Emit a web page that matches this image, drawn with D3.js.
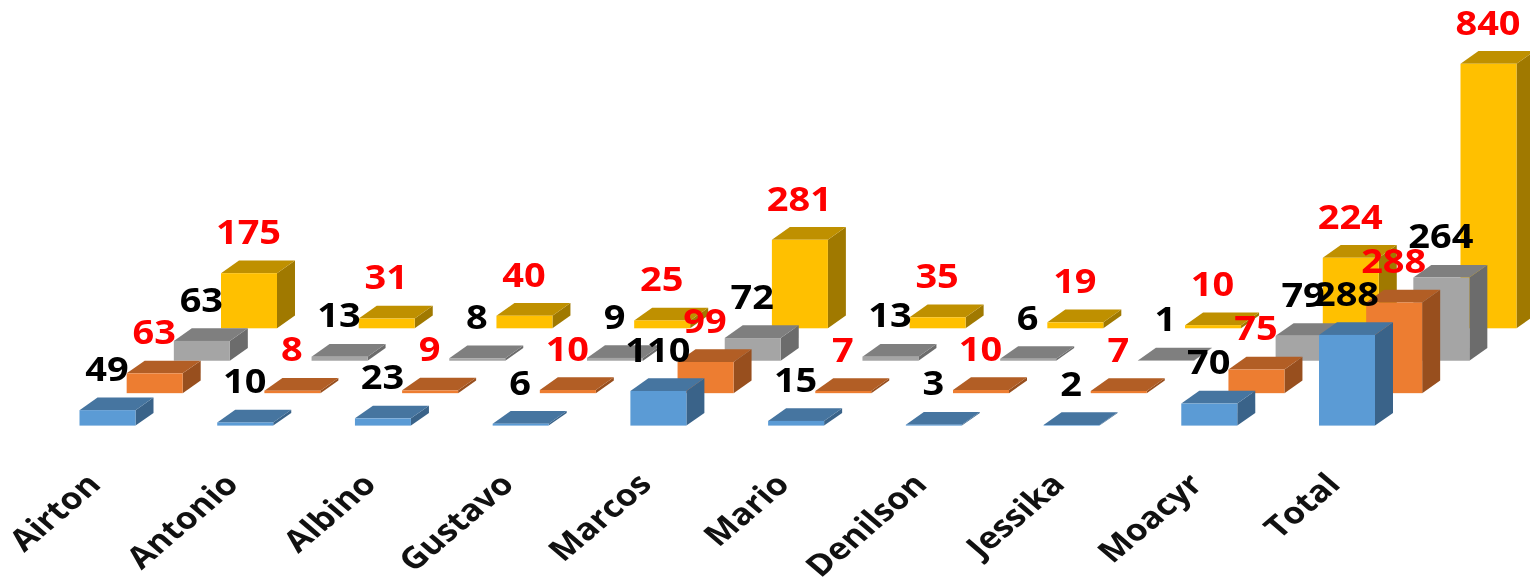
<!DOCTYPE html>
<html><head><meta charset="utf-8">
<script src="https://cdn.jsdelivr.net/npm/d3@7"></script>
<style>html,body{margin:0;padding:0;background:#fff;overflow:hidden}svg{display:block;filter:blur(0.7px)}</style>
</head><body><svg id="c" width="1530" height="583"></svg>
<script>
const categories=["Airton","Antonio","Albino","Gustavo","Marcos","Mario","Denilson","Jessika","Moacyr","Total"];
const seriesBlue=[49,10,23,6,110,15,3,2,70,288];
const seriesOrange=[63,8,9,10,99,7,10,7,75,288];
const seriesGray=[63,13,8,9,72,13,6,1,79,264];
const seriesYellow=[175,31,40,25,281,35,19,10,224,840];
const seriesNames=["blue","orange","gray","yellow"];
const seriesValues=[seriesBlue,seriesOrange,seriesGray,seriesYellow];
const faceColors=["#5B9BD5","#ED7D31","#A5A5A5","#FFC000"];
const topColors=["#4675A0","#B25E25","#7F7F7F","#BF9000"];
const sideColors=["#3A6389","#984F1E","#6C6C6C","#A07900"];
const labelColors=["#000","#f00","#000","#f00"];

const svg=d3.select("#c");
const barW=56,depthX=18,depthY=12.7;
const x=d3.scalePoint().domain(categories).range([79.5,1319]);
const sx=d3.scalePoint().domain(seriesNames).range([0,141.5]);
const base=d3.scalePoint().domain(seriesNames).range([425.6,328.3]);
const h=d3.scaleLinear().domain([0,840]).range([0,264.5]);
const poly=p=>p.map(q=>q.join(",")).join(" ");

const order=[3,2,1,0];
order.forEach(si=>{
  const name=seriesNames[si];
  const g=svg.append("g").attr("class","series-"+name);
  categories.forEach((cat,ci)=>{
    const v=seriesValues[si][ci];
    const x0=x(cat)+sx(name),x1=x0+barW,yb=base(name),yt=yb-h(v);
    g.append("polygon").attr("points",poly([[x1,yb],[x1+depthX,yb-depthY],[x1+depthX,yt-depthY],[x1,yt]])).attr("fill",sideColors[si]);
    g.append("polygon").attr("points",poly([[x0,yt],[x0+depthX,yt-depthY],[x1+depthX,yt-depthY],[x1,yt]])).attr("fill",topColors[si]);
    g.append("rect").attr("x",x0).attr("y",yt).attr("width",barW).attr("height",Math.max(h(v),0)).attr("fill",faceColors[si]);
  });
});
order.forEach(si=>{
  const name=seriesNames[si];
  categories.forEach((cat,ci)=>{
    const v=seriesValues[si][ci];
    const cx=x(cat)+sx(name)+barW/2-0.5,yt=base(name)-h(v)-depthY-16.5;
    svg.append("text").text(v)
      .attr("transform",`translate(${cx},${yt}) scale(1.1,1)`)
      .attr("text-anchor","middle")
      .attr("font-family","'Open Sans'").attr("font-weight",700).attr("font-size",34.5)
      .attr("fill",labelColors[si]);
  });
});
categories.forEach(cat=>{
  svg.append("text").text(cat)
    .attr("transform",`translate(${x(cat)+23},486) scale(1.17,1) rotate(-45)`)
    .attr("text-anchor","end")
    .attr("font-family","'Open Sans'").attr("font-weight",700).attr("font-size",30)
    .attr("fill","#111");
});
</script></body></html>
